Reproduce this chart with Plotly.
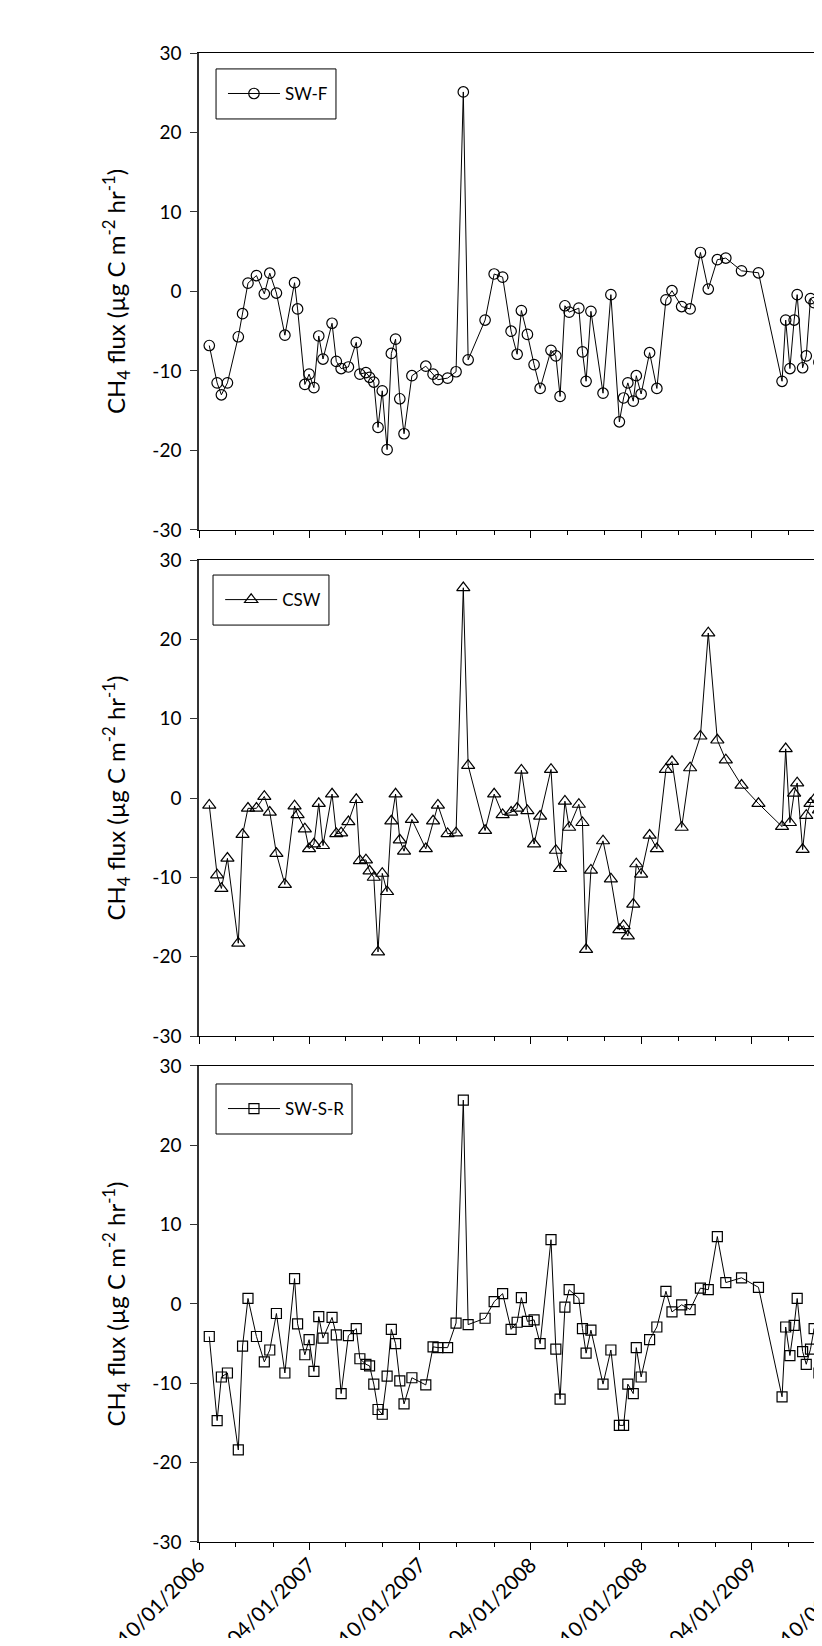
import plotly.graph_objects as go
from plotly.subplots import make_subplots

# Sampling dates (shared by the three sites)
dates = [
    "2006-10-18", "2006-10-31", "2006-11-07", "2006-11-17", "2006-12-05", "2006-12-12", "2006-12-21",
    "2007-01-04", "2007-01-17", "2007-01-26", "2007-02-06", "2007-02-20", "2007-03-08", "2007-03-13", "2007-03-25",
    "2007-04-01", "2007-04-09", "2007-04-17", "2007-04-24", "2007-05-09", "2007-05-16", "2007-05-24",
    "2007-06-05", "2007-06-18", "2007-06-24", "2007-07-04", "2007-07-10", "2007-07-17", "2007-07-24", "2007-07-31",
    "2007-08-08", "2007-08-15", "2007-08-22", "2007-08-29", "2007-09-05", "2007-09-18",
    "2007-10-11", "2007-10-23", "2007-10-31", "2007-11-16", "2007-11-30", "2007-12-12", "2007-12-20",
    "2008-01-17", "2008-02-01", "2008-02-15", "2008-02-29", "2008-03-10", "2008-03-17", "2008-03-27", "2008-04-07", "2008-04-17",
    "2008-05-05", "2008-05-13", "2008-05-20", "2008-05-28", "2008-06-04",
    "2008-06-20", "2008-06-26", "2008-07-02", "2008-07-10",
    "2008-07-30", "2008-08-12", "2008-08-26", "2008-09-02", "2008-09-09", "2008-09-18", "2008-09-23", "2008-10-01",
    "2008-10-15", "2008-10-27", "2008-11-11", "2008-11-21", "2008-12-07", "2008-12-21",
    "2009-01-07", "2009-01-20", "2009-02-04", "2009-02-18", "2009-03-16", "2009-04-13",
    "2009-05-22", "2009-05-28", "2009-06-04", "2009-06-11", "2009-06-16", "2009-06-25", "2009-07-01",
    "2009-07-08", "2009-07-14", "2009-07-22", "2009-07-28",
]

sw_f = [
    -6.8, -11.5, -13.0, -11.5, -5.7, -2.8, 1.05, 2.0, -0.3, 2.3,
    -0.2, -5.5, 1.1, -2.2, -11.7, -10.4, -12.1, -5.6, -8.5, -4.0,
    -8.8, -9.7, -9.5, -6.4, -10.4, -10.2, -10.8, -11.4, -17.1, -12.5,
    -19.9, -7.8, -6.0, -13.5, -17.9, -10.6, -9.4, -10.4, -11.1, -10.9,
    -10.1, 25.1, -8.6,
    -3.6, 2.2, 1.8, -5.0, -7.9, -2.4, -5.4, -9.2, -12.2,
    -7.4, -8.1, -13.2, -1.8, -2.6,
    -2.1, -7.6, -11.3, -2.5,
    -12.8, -0.4, -16.4, -13.4, -11.5, -13.8, -10.6, -12.9,
    -7.7, -12.2, -1.05, 0.1, -1.9, -2.2,
    4.9, 0.3, 4.0, 4.2, 2.6, 2.35,
    -11.3, -3.6, -9.7, -3.6, -0.4, -9.6, -8.1, -0.9, -1.4, -8.9, -7.6,
]

csw = [
    -0.9, -9.7, -11.4, -7.6, -18.3, -4.6, -1.3, -1.3, 0.2, -1.8,
    -7.0, -10.9, -1.0, -2.1, -3.9, -6.4, -5.8, -0.7, -6.0, 0.5,
    -4.5, -4.4, -3.0, -0.2, -7.9, -7.8, -9.2, -10.0, -19.4, -9.5,
    -11.8, -2.9, 0.5, -5.3, -6.7, -2.7, -6.4, -2.9, -0.9, -4.5,
    -4.4, 26.5, 4.1,
    -4.1, 0.5, -2.1, -1.8, -1.3, 3.5, -1.6, -5.8, -2.3,
    3.6, -6.6, -8.9, -0.4, -3.7,
    -0.8, -3.1, -19.1, -9.1,
    -5.4, -10.2, -16.6, -16.1, -17.4, -13.4, -8.3, -9.6,
    -4.7, -6.4, 3.6, 4.6, -3.7, 3.8,
    7.8, 20.8, 7.3, 4.8, 1.6, -0.7,
    -3.6, 6.2, -3.1, 0.6, 1.9, -6.5, -2.2, -0.7, -0.2, -1.5, -9.0,
]

sw_s_r = [
    -4.1, -14.7, -9.2, -8.7, -18.4, -5.3, 0.7, -4.1, -7.3, -5.8,
    -1.2, -8.7, 3.2, -2.5, -6.4, -4.5, -8.5, -1.6, -4.3, -1.7,
    -3.9, -11.3, -4.0, -3.1, -6.9, -7.6, -7.8, -10.1, -13.3, -13.9,
    -9.1, -3.2, -5.0, -9.7, -12.6, -9.3, -10.2, -5.4, -5.5, -5.5,
    -2.4, 25.7, -2.6,
    -1.8, 0.3, 1.3, -3.2, -2.3, 0.8, -2.2, -2.0, -5.0,
    8.1, -5.7, -12.0, -0.4, 1.8,
    0.7, -3.1, -6.2, -3.3,
    -10.1, -5.8, -15.3, -15.3, -10.1, -11.3, -5.5, -9.2,
    -4.5, -2.9, 1.6, -1.0, -0.1, -0.7,
    2.0, 1.8, 8.5, 2.7, 3.3, 2.1,
    -11.7, -2.9, -6.5, -2.7, 0.7, -6.0, -7.6, -5.7, -3.1, -8.7, -9.0,
]

series_names = ["SW-F", "CSW", "SW-S-R"]
series_values = [sw_f, csw, sw_s_r]
symbols = ["circle-open", "triangle-up-open", "square-open"]
marker_sizes = [10.5, 11.5, 10]

# the axis runs on past the right edge of the browser window, as in the original
x_start = "2006-10-01"
x_end = "2009-12-03"
y_tickvals = [-30, -20, -10, 0, 10, 20, 30]
y_ticktext = ["-30", "-20", "-10", "0", "10", "20", "30"]
y_title = "CH<sub>4</sub> flux (µg C m<sup>-2</sup> hr<sup>-1</sup>)"

FONT = "Lato"

fig = make_subplots(rows=3, cols=1, shared_xaxes=True)

legend_ids = ["legend", "legend2", "legend3"]
for i, (name, vals) in enumerate(zip(series_names, series_values)):
    fig.add_trace(
        go.Scatter(
            x=dates, y=vals, mode="lines+markers", name=name,
            line=dict(color="black", width=1),
            marker=dict(symbol=symbols[i], size=marker_sizes[i], color="black",
                        line=dict(width=1.2, color="black")),
            legend=legend_ids[i],
        ),
        row=i + 1, col=1,
    )

# panel domains (paper fractions)
domains = [[0.6797, 1.0], [0.3398, 0.6595], [0.0, 0.3197]]

# the page body adds an 8px margin, so the figure is offset to compensate;
# the figure is wider than the window so the plot runs off the right edge
fig.update_layout(
    width=892, height=1630,
    margin=dict(l=191, r=0, t=45, b=96),
    paper_bgcolor="white", plot_bgcolor="white",
    font=dict(family=FONT, color="black"),
    showlegend=True,
    yaxis=dict(domain=domains[0]),
    yaxis2=dict(domain=domains[1]),
    yaxis3=dict(domain=domains[2]),
)

# legends, each in its own box
legend_pos = [(0.0342, 0.9725), (0.0302, 0.6326), (0.0342, 0.2908)]
box_pos = [(0.0243, 0.9557, 0.1954, 0.9893), (0.0200, 0.6158, 0.1854, 0.6494), (0.0243, 0.2740, 0.2183, 0.3076)]
for lid, (lx, ly), (x0, y0, x1, y1) in zip(legend_ids, legend_pos, box_pos):
    fig.update_layout({lid: dict(x=lx, y=ly, xanchor="left", yanchor="middle",
                                 bgcolor="rgba(0,0,0,0)", borderwidth=0, itemwidth=52,
                                 font=dict(family=FONT, size=17, color="black"))})
    fig.add_shape(type="rect", xref="paper", yref="paper", x0=x0, y0=y0, x1=x1, y1=y1,
                  line=dict(color="black", width=1), fillcolor="rgba(0,0,0,0)")

fig.update_xaxes(
    type="date", range=[x_start, x_end],
    tick0=x_start, dtick="M6", tickformat="%m/%d/%Y", tickangle=-45,
    ticks="outside", ticklen=7, tickcolor="black", tickwidth=1,
    minor=dict(dtick="M2", tick0=x_start, ticks="outside", ticklen=4, tickcolor="black", showgrid=False),
    showline=True, linecolor="black", linewidth=1, mirror=True,
    showgrid=False, zeroline=False, automargin=False,
    tickfont=dict(family=FONT, size=20.5, color="black"),
    ticklabelstandoff=-5,
)
fig.update_xaxes(showticklabels=False, row=1, col=1)
fig.update_xaxes(showticklabels=False, row=2, col=1)

fig.update_yaxes(
    range=[-30, 30], tickmode="array", tickvals=y_tickvals, ticktext=y_ticktext,
    ticks="outside", ticklen=7, tickcolor="#333", tickwidth=1,
    showline=True, linecolor="#333", linewidth=1.5, mirror=False,
    showgrid=False, zeroline=False, automargin=False,
    tickfont=dict(family=FONT, size=19, color="black"),
    ticklabelstandoff=5,
    title=dict(text=y_title, font=dict(family=FONT, size=24, color="black"), standoff=20),
)

fig.write_html("out.html")
